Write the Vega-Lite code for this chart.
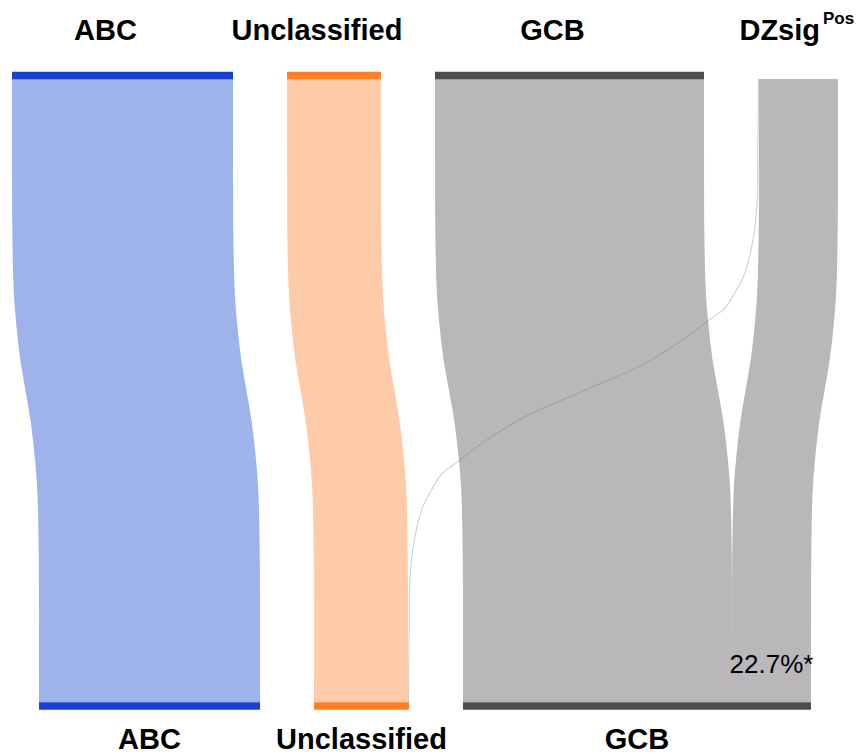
{
  "$schema": "https://vega.github.io/schema/vega-lite/v6.json",
  "autosize": {"type": "fit", "contains": "padding"},
  "width": 859,
  "height": 754,
  "padding": 0,
  "background": "white",
  "config": {"view": {"stroke": null}, "text": {"font": "Liberation Sans", "color": "#000000"}},
  "datasets": {
    "flows": [
      {"source": "ABC", "target": "ABC", "n": 221},
      {"source": "Unclassified", "target": "Unclassified", "n": 94},
      {"source": "GCB", "target": "GCB", "n": 269},
      {"source": "DZsig", "target": "Unclassified", "n": 1},
      {"source": "DZsig", "target": "GCB", "n": 79}
    ],
    "profile": [
      {"t": 0, "w": 0},
      {"t": 0.19, "w": 0.003},
      {"t": 0.27, "w": 0.02},
      {"t": 0.35, "w": 0.075},
      {"t": 0.39, "w": 0.15},
      {"t": 0.45, "w": 0.305},
      {"t": 0.5, "w": 0.5},
      {"t": 0.55, "w": 0.695},
      {"t": 0.61, "w": 0.85},
      {"t": 0.65, "w": 0.925},
      {"t": 0.73, "w": 0.98},
      {"t": 0.81, "w": 0.997},
      {"t": 1, "w": 1}
    ]
  },
  "layer": [
    {
      "data": {"name": "profile"},
      "transform": [
        {"calculate": "data('flows')", "as": "link"},
        {"flatten": ["link"]},
        {"calculate": "datum.link.source", "as": "source"},
        {"calculate": "datum.link.target", "as": "target"},
        {"calculate": "datum.link.n", "as": "n"},
        {"calculate": "indexof(['ABC', 'Unclassified', 'GCB', 'DZsig'], datum.source)", "as": "sRank"},
        {"calculate": "indexof(['ABC', 'Unclassified', 'GCB', 'DZsig'], datum.target)", "as": "tRank"},
        {"window": [{"op": "sum", "field": "n", "as": "cumTop"}], "groupby": ["t"], "sort": [{"field": "sRank"}, {"field": "tRank"}]},
        {"window": [{"op": "sum", "field": "n", "as": "cumBot"}], "groupby": ["t"], "sort": [{"field": "tRank"}, {"field": "sRank"}]},
        {"joinaggregate": [
          {"op": "sum", "field": "n", "as": "total"},
          {"op": "max", "field": "sRank", "as": "maxS"},
          {"op": "max", "field": "tRank", "as": "maxT"}
        ], "groupby": ["t"]},
        {"calculate": "datum.cumTop + 54 * datum.sRank - (datum.total + 54 * datum.maxS) / 2 - datum.n", "as": "x0Top"},
        {"calculate": "datum.cumBot + 54 * datum.tRank - (datum.total + 54 * datum.maxT) / 2 - datum.n", "as": "x0Bot"},
        {"calculate": "datum.x0Top + datum.w * (datum.x0Bot - datum.x0Top)", "as": "xl"},
        {"calculate": "datum.xl + datum.n", "as": "xr"},
        {"calculate": "(datum.xl + datum.xr) / 2", "as": "xc"}
      ],
      "layer": [
        {
          "transform": [{"filter": "datum.n >= 2"}],
          "mark": {"type": "area", "orient": "horizontal", "interpolate": "monotone"},
          "encoding": {
            "y": {"field": "t", "type": "quantitative", "scale": {"domain": [-0.12678, 1.06815], "reverse": true, "nice": false, "zero": false}, "axis": null},
            "x": {"field": "xl", "type": "quantitative", "stack": null, "scale": {"domain": [-425, 434], "nice": false, "zero": false}, "axis": null},
            "x2": {"field": "xr"},
            "fill": {
              "field": "source",
              "type": "nominal",
              "scale": {"domain": ["ABC", "Unclassified", "GCB", "DZsig"], "range": ["#9db3e9", "#fdcba7", "#b9b7b9", "#b9b7b9"]},
              "legend": null
            },
            "detail": {"field": "target"}
          }
        },
        {
          "transform": [{"filter": "datum.n < 2"}],
          "mark": {"type": "line", "orient": "horizontal", "interpolate": "monotone", "color": "#7a7a7a", "strokeWidth": 1.1, "opacity": 0.36},
          "encoding": {
            "y": {"field": "t", "type": "quantitative", "scale": {"domain": [-0.12678, 1.06815], "reverse": true, "nice": false, "zero": false}, "axis": null},
            "x": {"field": "xc", "type": "quantitative", "scale": {"domain": [-425, 434], "nice": false, "zero": false}, "axis": null},
            "detail": {"field": "source"}
          }
        },
        {
          "transform": [
            {"filter": "datum.t === 1"},
            {"joinaggregate": [{"op": "sum", "field": "n", "as": "targetTotal"}], "groupby": ["target"]},
            {"filter": "datum.source === 'DZsig' && datum.target === 'GCB'"},
            {"calculate": "format(datum.n / datum.targetTotal, '.1%') + '*'", "as": "share"}
          ],
          "mark": {"type": "text", "fontSize": 26, "align": "center", "dy": -38},
          "encoding": {
            "y": {"field": "t", "type": "quantitative", "scale": {"domain": [-0.12678, 1.06815], "reverse": true, "nice": false, "zero": false}, "axis": null},
            "x": {"field": "xc", "type": "quantitative", "scale": {"domain": [-425, 434], "nice": false, "zero": false}, "axis": null},
            "text": {"field": "share"}
          }
        }
      ]
    },
    {
      "data": {"name": "flows"},
      "transform": [
        {"aggregate": [{"op": "sum", "field": "n", "as": "n"}], "groupby": ["source"]},
        {"calculate": "indexof(['ABC', 'Unclassified', 'GCB', 'DZsig'], datum.source)", "as": "rank"},
        {"window": [{"op": "sum", "field": "n", "as": "cum"}], "sort": [{"field": "rank"}]},
        {"joinaggregate": [{"op": "sum", "field": "n", "as": "total"}, {"op": "max", "field": "rank", "as": "maxRank"}]},
        {"calculate": "datum.cum + 54 * datum.rank - (datum.total + 54 * datum.maxRank) / 2", "as": "x1"},
        {"calculate": "datum.x1 - datum.n", "as": "x0"},
        {"calculate": "(datum.x0 + datum.x1) / 2", "as": "xc"}
      ],
      "layer": [
        {
          "mark": {"type": "rule", "strokeWidth": 7.5, "yOffset": -3.5},
          "encoding": {
            "y": {"datum": 0, "type": "quantitative", "scale": {"domain": [-0.12678, 1.06815], "reverse": true, "nice": false, "zero": false}, "axis": null},
            "x": {"field": "x0", "type": "quantitative", "scale": {"domain": [-425, 434], "nice": false, "zero": false}, "axis": null},
            "x2": {"field": "x1"},
            "color": {
              "field": "source",
              "type": "nominal",
              "scale": {"domain": ["ABC", "Unclassified", "GCB", "DZsig"], "range": ["#1b40cf", "#ff7f27", "#514c4c", "rgba(0,0,0,0)"]},
              "legend": null
            }
          }
        },
        {
          "transform": [{"filter": "datum.source !== 'DZsig'"}],
          "mark": {"type": "text", "fontSize": 29, "fontWeight": "bold", "align": "center", "dx": -17, "dy": -48},
          "encoding": {
            "y": {"datum": 0, "type": "quantitative", "scale": {"domain": [-0.12678, 1.06815], "reverse": true, "nice": false, "zero": false}, "axis": null},
            "x": {"field": "xc", "type": "quantitative", "scale": {"domain": [-425, 434], "nice": false, "zero": false}, "axis": null},
            "text": {"field": "source"}
          }
        },
        {
          "transform": [{"filter": "datum.source === 'DZsig'"}],
          "mark": {"type": "text", "fontSize": 29, "fontWeight": "bold", "align": "right", "dx": 22, "dy": -48},
          "encoding": {
            "y": {"datum": 0, "type": "quantitative", "scale": {"domain": [-0.12678, 1.06815], "reverse": true, "nice": false, "zero": false}, "axis": null},
            "x": {"field": "xc", "type": "quantitative", "scale": {"domain": [-425, 434], "nice": false, "zero": false}, "axis": null},
            "text": {"field": "source"}
          }
        },
        {
          "transform": [{"filter": "datum.source === 'DZsig'"}],
          "mark": {"type": "text", "text": "Pos", "fontSize": 17, "fontWeight": "bold", "align": "left", "dx": 25, "dy": -60},
          "encoding": {
            "y": {"datum": 0, "type": "quantitative", "scale": {"domain": [-0.12678, 1.06815], "reverse": true, "nice": false, "zero": false}, "axis": null},
            "x": {"field": "xc", "type": "quantitative", "scale": {"domain": [-425, 434], "nice": false, "zero": false}, "axis": null}
          }
        }
      ]
    },
    {
      "data": {"name": "flows"},
      "transform": [
        {"aggregate": [{"op": "sum", "field": "n", "as": "n"}], "groupby": ["target"]},
        {"calculate": "indexof(['ABC', 'Unclassified', 'GCB', 'DZsig'], datum.target)", "as": "rank"},
        {"window": [{"op": "sum", "field": "n", "as": "cum"}], "sort": [{"field": "rank"}]},
        {"joinaggregate": [{"op": "sum", "field": "n", "as": "total"}, {"op": "max", "field": "rank", "as": "maxRank"}]},
        {"calculate": "datum.cum + 54 * datum.rank - (datum.total + 54 * datum.maxRank) / 2", "as": "x1"},
        {"calculate": "datum.x1 - datum.n", "as": "x0"},
        {"calculate": "(datum.x0 + datum.x1) / 2", "as": "xc"}
      ],
      "layer": [
        {
          "mark": {"type": "rule", "strokeWidth": 7.5, "yOffset": 3.5},
          "encoding": {
            "y": {"datum": 1, "type": "quantitative", "scale": {"domain": [-0.12678, 1.06815], "reverse": true, "nice": false, "zero": false}, "axis": null},
            "x": {"field": "x0", "type": "quantitative", "scale": {"domain": [-425, 434], "nice": false, "zero": false}, "axis": null},
            "x2": {"field": "x1"},
            "color": {
              "field": "target",
              "type": "nominal",
              "scale": {"domain": ["ABC", "Unclassified", "GCB", "DZsig"], "range": ["#1b40cf", "#ff7f27", "#514c4c", "rgba(0,0,0,0)"]},
              "legend": null
            }
          }
        },
        {
          "mark": {"type": "text", "fontSize": 29, "fontWeight": "bold", "align": "center", "dy": 37},
          "encoding": {
            "y": {"datum": 1, "type": "quantitative", "scale": {"domain": [-0.12678, 1.06815], "reverse": true, "nice": false, "zero": false}, "axis": null},
            "x": {"field": "xc", "type": "quantitative", "scale": {"domain": [-425, 434], "nice": false, "zero": false}, "axis": null},
            "text": {"field": "target"}
          }
        }
      ]
    }
  ]
}
